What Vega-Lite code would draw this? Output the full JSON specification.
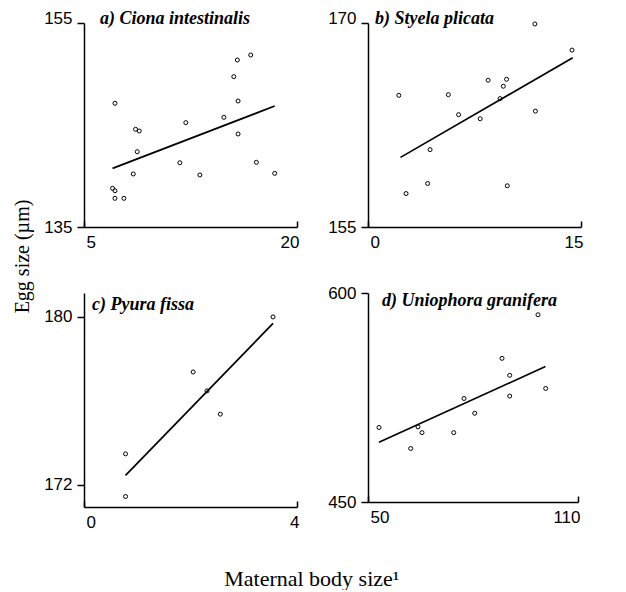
{
  "$schema": "https://vega.github.io/schema/vega-lite/v6.json",
  "background": "white",
  "padding": {"left": 12, "top": 9, "right": 5, "bottom": 0},
  "title": {"text": "Egg size (µm)", "orient": "left", "anchor": "middle", "font": "Liberation Serif", "fontSize": 20, "fontWeight": "normal", "fontStyle": "normal", "color": "black", "offset": -9, "frame": "bounds", "baseline": "bottom", "dx": 43},
  "spacing": 34,
  "datasets": {
    "a_pts": [
      {"size": 7.18, "egg": 147.13}, {"size": 15.80, "egg": 151.37}, {"size": 16.74, "egg": 151.86}, {"size": 15.55, "egg": 149.74},
      {"size": 15.85, "egg": 147.35}, {"size": 14.85, "egg": 145.75}, {"size": 12.17, "egg": 145.23}, {"size": 8.63, "egg": 144.58},
      {"size": 8.89, "egg": 144.41}, {"size": 8.75, "egg": 142.38}, {"size": 15.85, "egg": 144.12}, {"size": 11.75, "egg": 141.30},
      {"size": 17.14, "egg": 141.34}, {"size": 8.47, "egg": 140.20}, {"size": 13.16, "egg": 140.10}, {"size": 18.43, "egg": 140.26},
      {"size": 7.01, "egg": 138.79}, {"size": 7.18, "egg": 138.56}, {"size": 7.18, "egg": 137.81}, {"size": 7.81, "egg": 137.81}
    ],
    "a_fit": [{"size": 7.01, "egg": 140.75}, {"size": 18.43, "egg": 146.86}],
    "b_pts": [
      {"size": 2.17, "egg": 164.68}, {"size": 2.68, "egg": 157.46}, {"size": 4.20, "egg": 158.20}, {"size": 4.37, "egg": 160.69},
      {"size": 5.66, "egg": 164.73}, {"size": 6.38, "egg": 163.26}, {"size": 7.90, "egg": 162.96}, {"size": 8.46, "egg": 165.79},
      {"size": 9.76, "egg": 165.86}, {"size": 9.53, "egg": 165.35}, {"size": 9.30, "egg": 164.44}, {"size": 9.81, "egg": 158.03},
      {"size": 11.75, "egg": 169.93}, {"size": 11.79, "egg": 163.52}, {"size": 14.37, "egg": 168.01}
    ],
    "b_fit": [{"size": 2.29, "egg": 160.12}, {"size": 14.42, "egg": 167.44}],
    "c_pts": [
      {"size": 3.55, "egg": 180.0}, {"size": 2.05, "egg": 177.38}, {"size": 2.31, "egg": 176.48},
      {"size": 2.56, "egg": 175.37}, {"size": 0.78, "egg": 173.48}, {"size": 0.78, "egg": 171.45}
    ],
    "c_fit": [{"size": 0.78, "egg": 172.46}, {"size": 3.55, "egg": 179.69}],
    "d_pts": [
      {"size": 53.14, "egg": 503.5}, {"size": 62.2, "egg": 488.4}, {"size": 64.29, "egg": 503.9}, {"size": 65.43, "egg": 499.8},
      {"size": 74.49, "egg": 499.8}, {"size": 77.43, "egg": 524.3}, {"size": 80.49, "egg": 513.7}, {"size": 88.29, "egg": 553.1},
      {"size": 90.49, "egg": 540.9}, {"size": 90.49, "egg": 526.0}, {"size": 98.57, "egg": 584.4}, {"size": 100.77, "egg": 531.5}
    ],
    "d_fit": [{"size": 53.14, "egg": 492.9}, {"size": 100.69, "egg": 547.2}]
  },
  "vconcat": [
    {
      "spacing": 28,
      "hconcat": [
        {
          "width": 213, "height": 204,
          "title": {"text": "a) Ciona intestinalis", "dx": 16, "offset": -19},
          "encoding": {
            "x": {"field": "size", "type": "quantitative", "scale": {"domain": [5, 20], "nice": false, "zero": false}, "axis": {"values": [5, 20], "title": null}},
            "y": {"field": "egg", "type": "quantitative", "scale": {"domain": [135, 155], "nice": false, "zero": false}, "axis": {"values": [135, 155], "title": null, "labelBaseline": {"condition": {"test": "datum.value == 155", "value": "alphabetic"}, "value": "middle"}}}
          },
          "layer": [
            {"data": {"name": "a_pts"}, "mark": {"type": "point", "shape": "circle", "filled": false, "size": 16, "strokeWidth": 1, "color": "black", "opacity": 1}},
            {"data": {"name": "a_fit"}, "mark": {"type": "line", "color": "black", "strokeWidth": 1.7}}
          ]
        },
        {
          "width": 213, "height": 204,
          "title": {"text": "b) Styela plicata", "dx": 7, "offset": -19},
          "encoding": {
            "x": {"field": "size", "type": "quantitative", "scale": {"domain": [0, 15], "nice": false, "zero": false}, "axis": {"values": [0, 15], "title": null}},
            "y": {"field": "egg", "type": "quantitative", "scale": {"domain": [155, 170], "nice": false, "zero": false}, "axis": {"values": [155, 170], "title": null, "labelBaseline": {"condition": {"test": "datum.value == 170", "value": "alphabetic"}, "value": "middle"}}}
          },
          "layer": [
            {"data": {"name": "b_pts"}, "mark": {"type": "point", "shape": "circle", "filled": false, "size": 16, "strokeWidth": 1, "color": "black", "opacity": 1}},
            {"data": {"name": "b_fit"}, "mark": {"type": "line", "color": "black", "strokeWidth": 1.7}}
          ]
        }
      ]
    },
    {
      "spacing": 28,
      "title": {"text": "Maternal body size¹", "orient": "bottom", "anchor": "middle", "frame": "bounds", "font": "Liberation Serif", "fontSize": 22, "fontWeight": "normal", "fontStyle": "normal", "color": "black", "offset": 39, "baseline": "top"},
      "hconcat": [
        {
          "width": 213, "height": 214,
          "title": {"text": "c) Pyura fissa", "dx": 8, "offset": -21},
          "encoding": {
            "x": {"field": "size", "type": "quantitative", "scale": {"domain": [0, 4], "nice": false, "zero": false}, "axis": {"values": [0, 4], "title": null}},
            "y": {"field": "egg", "type": "quantitative", "scale": {"domain": [170.95, 181.14], "nice": false, "zero": false}, "axis": {"values": [172, 180], "title": null}}
          },
          "layer": [
            {"data": {"name": "c_pts"}, "mark": {"type": "point", "shape": "circle", "filled": false, "size": 16, "strokeWidth": 1, "color": "black", "opacity": 1}},
            {"data": {"name": "c_fit"}, "mark": {"type": "line", "color": "black", "strokeWidth": 1.7}}
          ]
        },
        {
          "width": 210, "height": 209,
          "title": {"text": "d) Uniophora granifera", "dx": 14, "offset": -26},
          "encoding": {
            "x": {"field": "size", "type": "quantitative", "scale": {"domain": [50, 110], "nice": false, "zero": false}, "axis": {"values": [50, 110], "title": null}},
            "y": {"field": "egg", "type": "quantitative", "scale": {"domain": [450, 600], "nice": false, "zero": false}, "axis": {"values": [450, 600], "title": null}}
          },
          "layer": [
            {"data": {"name": "d_pts"}, "mark": {"type": "point", "shape": "circle", "filled": false, "size": 16, "strokeWidth": 1, "color": "black", "opacity": 1}},
            {"data": {"name": "d_fit"}, "mark": {"type": "line", "color": "black", "strokeWidth": 1.7}}
          ]
        }
      ]
    }
  ],
  "config": {
    "view": {"stroke": null},
    "title": {"font": "Liberation Serif", "fontStyle": "italic", "fontWeight": "bold", "fontSize": 18, "anchor": "start", "frame": "group", "color": "black", "baseline": "alphabetic"},
    "axis": {"grid": false, "domainColor": "black", "domainWidth": 1.5, "tickColor": "black", "tickWidth": 1.5, "labelFont": "Liberation Sans", "labelFontSize": 17, "labelColor": "black"},
    "axisX": {"tickSize": -6, "labelPadding": 13, "labelOffset": 2},
    "axisY": {"tickSize": 7, "labelPadding": 5}
  }
}
